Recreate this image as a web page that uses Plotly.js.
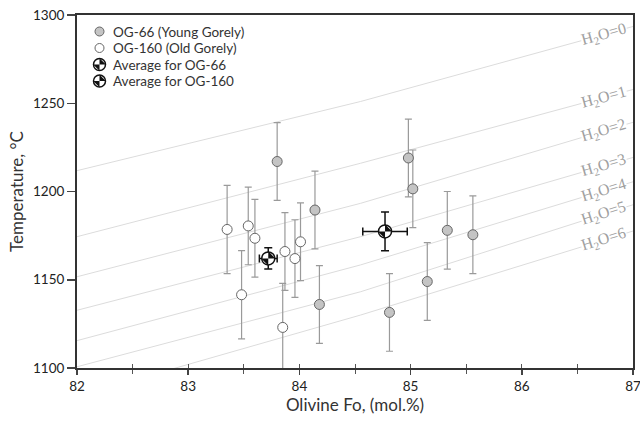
<!DOCTYPE html>
<html>
<head>
<meta charset="utf-8">
<script src="https://cdn.plot.ly/plotly-3.0.1.min.js"></script>
<style>html,body{margin:0;padding:0;background:#fff;}#chart{width:640px;height:425px;}</style>
</head>
<body>
<div id="chart"></div>
<script>
// ---- Data ----
const og66Fo = [83.80, 84.14, 84.18, 84.81, 84.98, 85.02, 85.15, 85.33, 85.56];
const og66T = [1217, 1189.5, 1136, 1131.5, 1219, 1201.5, 1149, 1178, 1175.5];
const og66Err = [22, 22, 22, 22, 22, 22, 22, 22, 22];

const og160Fo = [83.35, 83.48, 83.54, 83.60, 83.85, 83.87, 83.96, 84.01];
const og160T = [1178.5, 1141.5, 1180.5, 1173.5, 1123, 1166, 1162, 1171.5];
const og160Err = [25, 25, 22, 22, 25, 22, 22, 22];

const avgNames = ['Average for OG-66', 'Average for OG-160'];
const avgFo = [84.77, 83.72];
const avgT = [1177.4, 1162.1];
const avgFoErr = [0.2, 0.08];
const avgTErr = [11, 6];

// isolines of constant H2O (wt.%): temperature at Fo = 82, 84.55, 87
const isoH2O = ['0', '1', '2', '3', '4', '5', '6'];
const isoFo = [82, 84.55, 87];
const isoT82 = [1211.8, 1174.4, 1151.7, 1132.7, 1115.5, 1100.7, 1084];
const isoTmid = [1251, 1216, 1193.3, 1174.4, 1158.4, 1143.2, 1130];
const isoT87 = [1293.5, 1257.8, 1239.2, 1219.3, 1205.5, 1192.5, 1177.6];
const isoLabelFo = 86.74;

const legendLabels = ['OG-66 (Young Gorely)', 'OG-160 (Old Gorely)', 'Average for OG-66', 'Average for OG-160'];

// ---- Layout constants ----
const W = 640, H = 425;
const M = {l: 77, r: 7, t: 15, b: 57};
const plotW = W - M.l - M.r, plotH = H - M.t - M.b;
const xRange = [82, 87], yRange = [1100, 1300];
const pxPerX = plotW / (xRange[1] - xRange[0]);
const pxPerY = plotH / (yRange[1] - yRange[0]);

const FONT = 'Lato, "Open Sans", sans-serif';
const traces = [];
const annotations = [];

// isolines
isoH2O.forEach((h, i) => {
  const ys = [isoT82[i], isoTmid[i], isoT87[i]];
  traces.push({
    x: isoFo, y: ys, mode: 'lines', type: 'scatter', hoverinfo: 'skip', showlegend: false,
    line: {color: '#dcdcdc', width: 1}
  });
  const t = (isoLabelFo - isoFo[1]) / (isoFo[2] - isoFo[1]);
  const yl = ys[1] + t * (ys[2] - ys[1]);
  const slope = (ys[2] - ys[1]) / (isoFo[2] - isoFo[1]);
  const ang = Math.atan(slope * pxPerY / pxPerX) * 180 / Math.PI;
  annotations.push({
    x: isoLabelFo, y: yl, xref: 'x', yref: 'y', showarrow: false,
    text: 'H<sub>2</sub>O=' + h, textangle: -ang,
    font: {family: '"Liberation Serif", "DejaVu Serif", serif', size: 16, color: '#a0a0a0'},
    bgcolor: '#ffffff', borderpad: 0, xanchor: 'center', yanchor: 'middle'
  });
});

// OG-160 (white)
traces.push({
  x: og160Fo, y: og160T, mode: 'markers', type: 'scatter', showlegend: false,
  error_y: {type: 'data', array: og160Err, visible: true, color: '#9a9a9a', thickness: 1.2, width: 3.5},
  marker: {symbol: 'circle', size: 10, color: '#ffffff', line: {color: '#666666', width: 1}}
});
// OG-66 (gray)
traces.push({
  x: og66Fo, y: og66T, mode: 'markers', type: 'scatter', showlegend: false,
  error_y: {type: 'data', array: og66Err, visible: true, color: '#9a9a9a', thickness: 1.2, width: 3.5},
  marker: {symbol: 'circle', size: 10, color: '#c4c4c4', line: {color: '#666666', width: 1}}
});
// averages: white circle + black quadrants
traces.push({
  x: avgFo, y: avgT, mode: 'markers', type: 'scatter', showlegend: false, text: avgNames,
  error_y: {type: 'data', array: avgTErr, visible: true, color: '#111', thickness: 1.5, width: 4},
  error_x: {type: 'data', array: avgFoErr, visible: true, color: '#111', thickness: 1.5, width: 4},
  marker: {symbol: 'circle', size: 13, color: '#ffffff', line: {color: '#111', width: 1.5}}
});
traces.push({
  x: avgFo, y: avgT, mode: 'markers', type: 'scatter', showlegend: false, hoverinfo: 'skip',
  marker: {symbol: 'bowtie', size: 10, angle: -45, color: '#111', line: {width: 0}}
});

// dummy trace for inner tick overlay axis
traces.push({x: [], y: [], xaxis: 'x2', yaxis: 'y', type: 'scatter', mode: 'markers', showlegend: false});

// ---- custom legend (pixel-space overlay axes) ----
const legX = 22.5, legTextX = 34, legY0 = 16.5, legStep = 16.5;
const legY = legendLabels.map((_, i) => legY0 + i * legStep);
traces.push({
  x: [legX], y: [legY[0]], xaxis: 'x3', yaxis: 'y3', mode: 'markers', type: 'scatter', showlegend: false, hoverinfo: 'skip',
  marker: {symbol: 'circle', size: 9, color: '#c4c4c4', line: {color: '#666', width: 1}}
});
traces.push({
  x: [legX], y: [legY[1]], xaxis: 'x3', yaxis: 'y3', mode: 'markers', type: 'scatter', showlegend: false, hoverinfo: 'skip',
  marker: {symbol: 'circle', size: 9, color: '#ffffff', line: {color: '#666', width: 1}}
});
traces.push({
  x: [legX, legX], y: [legY[2], legY[3]], xaxis: 'x3', yaxis: 'y3', mode: 'markers', type: 'scatter', showlegend: false, hoverinfo: 'skip',
  marker: {symbol: 'circle', size: 12, color: '#ffffff', line: {color: '#111', width: 1.5}}
});
traces.push({
  x: [legX, legX], y: [legY[2], legY[3]], xaxis: 'x3', yaxis: 'y3', mode: 'markers', type: 'scatter', showlegend: false, hoverinfo: 'skip',
  marker: {symbol: 'bowtie', size: 9, angle: -45, color: '#111', line: {width: 0}}
});
legendLabels.forEach((lab, i) => {
  annotations.push({
    x: legTextX, y: legY[i], xref: 'x3', yref: 'y3', showarrow: false, text: lab,
    xanchor: 'left', yanchor: 'middle', font: {family: FONT, size: 13.5, color: '#333'}
  });
});

const layout = {
  width: W, height: H,
  margin: {l: M.l, r: M.r, t: M.t, b: M.b, pad: 0},
  paper_bgcolor: '#ffffff', plot_bgcolor: '#ffffff',
  showlegend: false,
  font: {family: FONT, size: 13, color: '#333'},
  xaxis: {
    range: xRange, dtick: 1, tick0: 82, ticks: 'outside', ticklen: 5, tickwidth: 1.5, tickcolor: '#444',
    minor: {dtick: 0.5, ticks: 'outside', ticklen: 4, tickwidth: 1, tickcolor: '#555', showgrid: false},
    showline: true, linecolor: '#333', linewidth: 2, mirror: true,
    showgrid: false, zeroline: false, ticklabeloverflow: 'allow',
    tickfont: {family: FONT, size: 13.5, color: '#222'},
    title: {text: 'Olivine Fo, (mol.%)', font: {family: FONT, size: 17, color: '#333'}, standoff: 6}
  },
  xaxis2: {
    overlaying: 'x', anchor: 'y', side: 'bottom', range: xRange, dtick: 0.5, tick0: 82,
    ticks: 'inside', ticklen: 4, tickwidth: 1, tickcolor: '#555',
    showticklabels: false, showline: false, showgrid: false, zeroline: false
  },
  yaxis: {
    range: yRange, dtick: 50, ticks: 'outside', ticklen: 8, tickwidth: 1.5, tickcolor: '#444',
    showline: true, linecolor: '#333', linewidth: 2, mirror: true,
    showgrid: false, zeroline: false,
    tickfont: {family: FONT, size: 13.5, color: '#222'},
    title: {text: 'Temperature, °C', font: {family: FONT, size: 17, color: '#333'}, standoff: 5}
  },
  xaxis3: {overlaying: 'x', anchor: 'y3', range: [0, plotW], visible: false, fixedrange: true},
  yaxis3: {overlaying: 'y', anchor: 'x3', range: [plotH, 0], visible: false, fixedrange: true},
  annotations: annotations
};

Plotly.newPlot('chart', traces, layout, {displayModeBar: false, staticPlot: true});
</script>
</body>
</html>
